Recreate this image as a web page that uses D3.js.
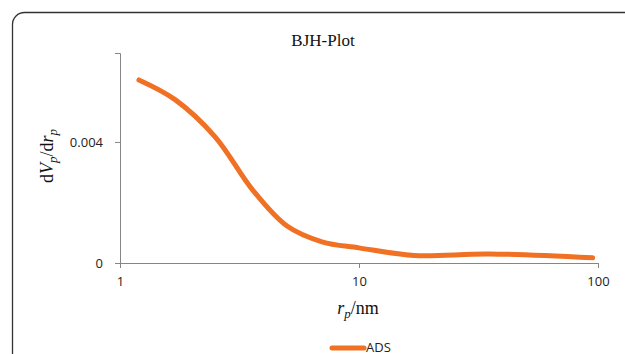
<!DOCTYPE html>
<html>
<head>
<meta charset="utf-8">
<script src="https://cdn.jsdelivr.net/npm/d3@7"></script>
<style>
  body { margin: 0; background: #fff; }
  svg { display: block; }
</style>
</head>
<body>
<div id="chart"></div>
<script>
// pore radius (nm) and dV/dr
var radius = [1.2, 1.7, 2.5, 3.6, 5, 7, 10, 17, 35, 95];
var dvdr   = [0.00605, 0.0054, 0.00417, 0.0024, 0.00122, 0.0007, 0.0005, 0.00025, 0.0003, 0.00017];
var xTicks = [1, 10, 100];
var yTicks = [0, 0.004];

var data = radius.map(function(r, i) { return {r: r, v: dvdr[i]}; });

var W = 625, H = 354;
var margin = {top: 53, right: 27, bottom: 91, left: 120},
    width = W - margin.left - margin.right,
    height = H - margin.top - margin.bottom;

var svg = d3.select("#chart")
  .append("svg")
    .attr("width", W)
    .attr("height", H);

// outer frame (runs off the bottom and right edge)
svg.append("rect")
  .attr("x", 12.5).attr("y", 12.5)
  .attr("width", 640).attr("height", 380)
  .attr("rx", 12).attr("ry", 12)
  .attr("fill", "none")
  .attr("stroke", "#333")
  .attr("stroke-width", 1.3);

var g = svg.append("g")
  .attr("transform", "translate(" + margin.left + "," + margin.top + ")");

var x = d3.scaleLog()
  .domain([1, 100])
  .range([0, width]);

var y = d3.scaleLinear()
  .domain([0, 0.00694])
  .range([height, 0]);

// X axis
var xAxis = g.append("g")
  .attr("transform", "translate(0," + height + ")")
  .call(d3.axisBottom(x).tickValues(xTicks).tickFormat(d3.format("d")).tickSize(5).tickPadding(9));

// Y axis
var yAxis = g.append("g")
  .call(d3.axisLeft(y).tickValues(yTicks).tickFormat(function(d) { return d === 0 ? "0" : d3.format(".3f")(d); }).tickSize(5).tickPadding(12));

[xAxis, yAxis].forEach(function(a) {
  a.select(".domain").attr("stroke", "#868686");
  a.selectAll(".tick line").attr("stroke", "#868686");
  a.selectAll(".tick text")
    .attr("fill", "#222")
    .style("font", "13px 'Open Sans', sans-serif");
});

// the line
g.append("path")
  .datum(data)
  .attr("fill", "none")
  .attr("stroke", "#F07124")
  .attr("stroke-width", 5)
  .attr("stroke-linecap", "round")
  .attr("d", d3.line()
    .curve(d3.curveCatmullRom.alpha(0.5))
    .x(function(d) { return x(d.r); })
    .y(function(d) { return y(d.v); }));

// title
svg.append("text")
  .attr("x", 323).attr("y", 46)
  .attr("text-anchor", "middle")
  .style("font", "17px 'Liberation Serif', serif")
  .attr("fill", "#111")
  .text("BJH-Plot");

// y label
var yl = svg.append("text")
  .attr("transform", "translate(53,156)rotate(-90)")
  .attr("text-anchor", "middle")
  .style("font", "18px 'Liberation Serif', serif")
  .attr("fill", "#111");
yl.append("tspan").text("d");
yl.append("tspan").style("font-style", "italic").text("V");
yl.append("tspan").style("font-style", "italic").style("font-size", "13px").attr("dy", 4).text("p");
yl.append("tspan").attr("dy", -4).text("/d");
yl.append("tspan").style("font-style", "italic").text("r");
yl.append("tspan").style("font-style", "italic").style("font-size", "13px").attr("dy", 4).text("p");

// x label
var xl = svg.append("text")
  .attr("x", 358).attr("y", 314)
  .attr("text-anchor", "middle")
  .style("font", "18px 'Liberation Serif', serif")
  .attr("fill", "#111");
xl.append("tspan").style("font-style", "italic").text("r");
xl.append("tspan").style("font-style", "italic").style("font-size", "13px").attr("dy", 4).text("p");
xl.append("tspan").attr("dy", -4).text("/nm");

// legend
svg.append("line")
  .attr("x1", 332).attr("x2", 364)
  .attr("y1", 348).attr("y2", 348)
  .attr("stroke", "#F07124")
  .attr("stroke-width", 5)
  .attr("stroke-linecap", "round");
svg.append("text")
  .attr("x", 366).attr("y", 352)
  .style("font", "13px 'Open Sans', sans-serif")
  .attr("fill", "#222")
  .text("ADS");
</script>
</body>
</html>
